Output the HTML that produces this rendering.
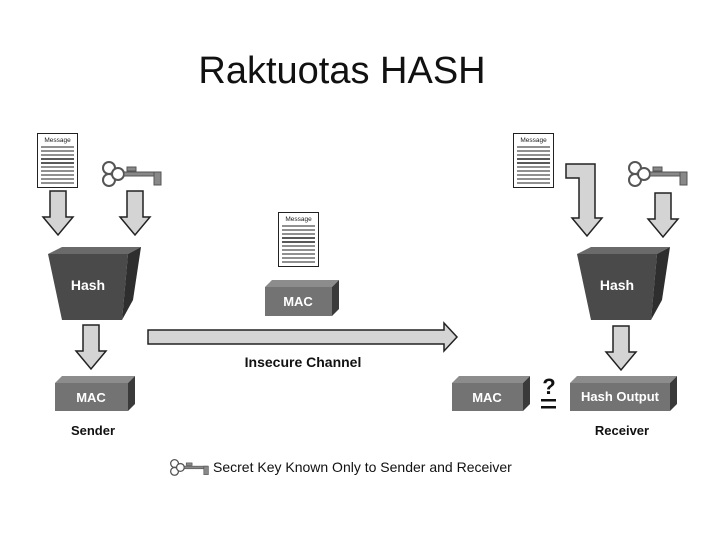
<!DOCTYPE html>
<html><head><meta charset="utf-8"><style>
body{margin:0;background:#fff;}
svg{display:block;}
text{font-family:"Liberation Sans",sans-serif;}
</style></head><body>
<svg width="720" height="540" viewBox="0 0 720 540" xmlns="http://www.w3.org/2000/svg">
<defs>
<g id="doc">
<rect x="0.5" y="0.5" width="40" height="54" fill="#fff" stroke="#222" stroke-width="1"/>
<text x="20.5" y="9" font-size="6.5" text-anchor="middle" fill="#222">Message</text>
<g stroke="#222" stroke-width="1">
<line x1="4" y1="14" x2="37" y2="14"/><line x1="4" y1="18" x2="37" y2="18"/>
<line x1="4" y1="22" x2="37" y2="22"/><line x1="4" y1="26" x2="37" y2="26" stroke-width="1.6"/>
<line x1="4" y1="30" x2="37" y2="30" stroke-width="1.6"/><line x1="4" y1="34" x2="37" y2="34"/>
<line x1="4" y1="38" x2="37" y2="38"/><line x1="4" y1="42" x2="37" y2="42"/>
<line x1="4" y1="46" x2="37" y2="46"/><line x1="4" y1="50" x2="37" y2="50"/>
</g></g>
<g id="key" fill="#fff" stroke="#555" stroke-width="2">
<circle cx="7" cy="7" r="6"/><circle cx="7" cy="19" r="6"/><circle cx="16" cy="13" r="6"/>
<rect x="22" y="11" width="36" height="4" fill="#888" stroke="#555" stroke-width="1"/>
<rect x="52" y="11" width="7" height="13" fill="#888" stroke="#555" stroke-width="1"/>
<rect x="25" y="6" width="9" height="4" fill="#888" stroke="#555" stroke-width="1"/>
</g>
<polygon id="darrow" points="-8,0 8,0 8,26 15,26 0,44 -15,26 -8,26" fill="#d4d4d4" stroke="#222" stroke-width="1.5"/>
<g id="hash">
<polygon points="0,7 14,0 93,0 80,7" fill="#6a6a6a"/>
<polygon points="0,7 80,7 74,73 14,73" fill="#4a4a4a"/>
<polygon points="80,7 93,0 85,53 74,73" fill="#2e2e2e"/>
<text x="40" y="43" font-size="14" font-weight="bold" fill="#fff" text-anchor="middle">Hash</text>
</g>
</defs>

<text x="342" y="83" font-size="38" text-anchor="middle" fill="#111">Raktuotas HASH</text>

<!-- left -->
<use href="#doc" x="37" y="133"/>
<use href="#key" x="102" y="161"/>
<use href="#darrow" x="58" y="191"/>
<use href="#darrow" x="135" y="191"/>
<use href="#hash" x="48" y="247"/>
<use href="#darrow" x="91" y="325"/>
<polygon points="55,383 62,376 135,376 128,383" fill="#8c8c8c"/>
<rect x="55" y="383" width="73" height="28" fill="#737373"/>
<polygon points="128,383 135,376 135,404 128,411" fill="#3a3a3a"/>
<text x="91" y="402" font-size="13" font-weight="bold" fill="#fff" text-anchor="middle">MAC</text>
<text x="93" y="435" font-size="13" font-weight="bold" fill="#111" text-anchor="middle">Sender</text>

<!-- middle -->
<use href="#doc" x="278" y="212"/>
<polygon points="265,287 272,280 339,280 332,287" fill="#8c8c8c"/>
<rect x="265" y="287" width="67" height="29" fill="#737373"/>
<polygon points="332,287 339,280 339,309 332,316" fill="#3a3a3a"/>
<text x="298" y="306" font-size="13" font-weight="bold" fill="#fff" text-anchor="middle">MAC</text>
<polygon points="148,330 444,330 444,323 457,337 444,351 444,344 148,344" fill="#d4d4d4" stroke="#222" stroke-width="1.5"/>
<text x="303" y="367" font-size="14" font-weight="bold" fill="#111" text-anchor="middle">Insecure Channel</text>

<!-- right -->
<use href="#doc" x="513" y="133"/>
<use href="#key" x="628" y="161"/>
<polygon points="566,164 595,164 595,218 602,218 587,236 572,218 579,218 579,178 566,178" fill="#d4d4d4" stroke="#222" stroke-width="1.5"/>
<use href="#darrow" x="663" y="193"/>
<use href="#hash" x="577" y="247"/>
<use href="#darrow" x="621" y="326"/>
<polygon points="452,383 459,376 530,376 523,383" fill="#8c8c8c"/>
<rect x="452" y="383" width="71" height="28" fill="#737373"/>
<polygon points="523,383 530,376 530,404 523,411" fill="#3a3a3a"/>
<text x="487" y="402" font-size="13" font-weight="bold" fill="#fff" text-anchor="middle">MAC</text>
<text x="549" y="394" font-size="22" font-weight="bold" fill="#111" text-anchor="middle">?</text>
<rect x="541" y="399" width="15" height="2.5" fill="#111"/>
<rect x="541" y="406" width="15" height="2.5" fill="#111"/>
<polygon points="570,383 577,376 677,376 670,383" fill="#8c8c8c"/>
<rect x="570" y="383" width="100" height="28" fill="#737373"/>
<polygon points="670,383 677,376 677,404 670,411" fill="#3a3a3a"/>
<text x="620" y="401" font-size="13" font-weight="bold" fill="#fff" text-anchor="middle">Hash Output</text>
<text x="622" y="435" font-size="13" font-weight="bold" fill="#111" text-anchor="middle">Receiver</text>

<!-- legend -->
<g transform="translate(170,459) scale(0.65)"><use href="#key"/></g>
<text x="213" y="472" font-size="14" fill="#111">Secret Key Known Only to Sender and Receiver</text>
</svg>
</body></html>
